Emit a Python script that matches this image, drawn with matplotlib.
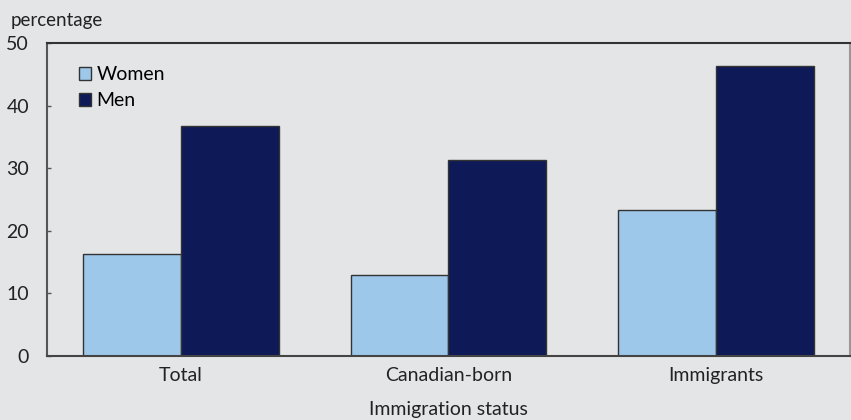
import numpy as np
import matplotlib.pyplot as plt
from matplotlib.patches import Patch

plt.rcParams['font.family'] = ['Lato', 'DejaVu Sans']

categories = ['Total', 'Canadian-born', 'Immigrants']
women = [16.3, 12.9, 23.3]
men = [36.7, 31.3, 46.3]

bg = '#e4e5e7'
c_women = '#9dc8ea'
c_men = '#0e1958'

fig = plt.figure(figsize=(8.51, 4.2), dpi=100, facecolor=bg)
ax = fig.add_axes([0.0552, 0.1524, 0.9436, 0.7452])
ax.set_facecolor(bg)

x = np.arange(len(categories))
w = 0.366
ax.bar(x - w / 2, women, w, color=c_women, edgecolor='#333333', linewidth=1.0)
ax.bar(x + w / 2, men, w, color=c_men, edgecolor='#333333', linewidth=1.0)

ax.set_xlim(-0.5, 2.5)
ax.set_ylim(0, 50)
ax.set_yticks([0, 10, 20, 30, 40, 50])
ax.set_xticks(x)
ax.set_xticklabels(categories)
ax.tick_params(axis='y', direction='in', length=3, width=1, colors='#555555',
               labelcolor='#222222', labelsize=14, pad=13)
ax.tick_params(axis='x', length=0, labelsize=14, labelcolor='#222222', pad=8)

ax.spines['left'].set_color('#555555')
ax.spines['left'].set_linewidth(1.5)
ax.spines['bottom'].set_color('#444444')
ax.spines['bottom'].set_linewidth(1.5)
ax.spines['top'].set_color('#333333')
ax.spines['top'].set_linewidth(1.5)
ax.spines['right'].set_color('#999999')
ax.spines['right'].set_linewidth(1.5)

ax.set_xlabel('Immigration status', fontsize=14, color='#222222', labelpad=12)
fig.text(0.012, 0.952, 'percentage', fontsize=13.5, color='#222222', va='center')

handles = [Patch(facecolor=c_women, edgecolor='#333333', label='Women'),
           Patch(facecolor=c_men, edgecolor='#333333', label='Men')]
ax.legend(handles=handles, loc='upper left', bbox_to_anchor=(0.03, 0.95), frameon=False,
          fontsize=14, handlelength=0.6, handleheight=0.6, handletextpad=0.3,
          labelspacing=0.45, borderaxespad=0)

fig.savefig('out.png', dpi=100, facecolor=bg)
